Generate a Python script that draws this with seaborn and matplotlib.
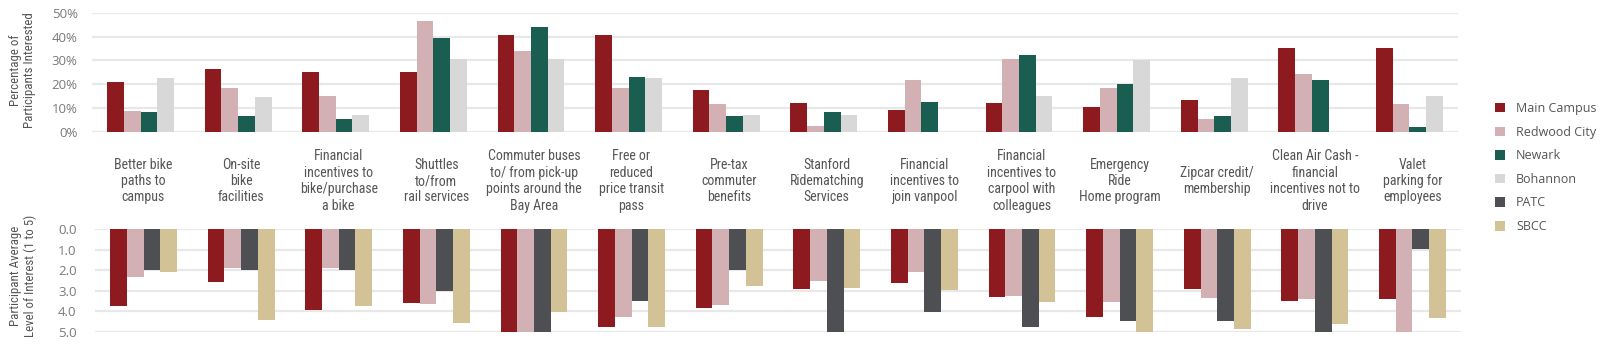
import matplotlib
matplotlib.use("Agg")
import matplotlib.pyplot as plt
from matplotlib import font_manager
from matplotlib.font_manager import FontProperties
from matplotlib.patches import Patch
from matplotlib.transforms import blended_transform_factory
import seaborn as sns
import pandas as pd

categories = [
    "Better bike\npaths to\ncampus",
    "On-site\nbike\nfacilities",
    "Financial\nincentives to\nbike/purchase\na bike",
    "Shuttles\nto/from\nrail services",
    "Commuter buses\nto/ from pick-up\npoints around the\nBay Area",
    "Free or\nreduced\nprice transit\npass",
    "Pre-tax\ncommuter\nbenefits",
    "Stanford\nRidematching\nServices",
    "Financial\nincentives to\njoin vanpool",
    "Financial\nincentives to\ncarpool with\ncolleagues",
    "Emergency\nRide\nHome program",
    "Zipcar credit/\nmembership",
    "Clean Air Cash -\nfinancial\nincentives not to\ndrive",
    "Valet\nparking for\nemployees",
]

# Percentage of participants interested (top panel)
pct_main_campus = [21, 26.5, 25, 25, 40.6, 40.6, 17.8, 12.2, 9.4, 12.2, 10.6, 13.6, 35, 35]
pct_redwood_city = [8.7, 18.3, 15.1, 46.6, 34, 18.3, 11.9, 2.4, 21.6, 30.7, 18.3, 5.6, 24.5, 11.9]
pct_newark = [8.3, 6.7, 5.3, 39.5, 43.8, 23.1, 6.7, 8.3, 12.7, 32.1, 20, 6.7, 21.6, 2.2]
pct_bohannon = [22.5, 14.8, 7, 30.4, 30.4, 22.5, 7, 7, 0, 15, 30.3, 22.5, 0, 15]

# Participant average level of interest (bottom panel)
lvl_main_campus = [3.73, 2.56, 3.94, 3.62, 5.0, 4.76, 3.86, 2.93, 2.6, 3.29, 4.3, 2.93, 3.5, 3.42]
lvl_redwood_city = [2.33, 1.89, 1.89, 3.65, 5.0, 4.27, 3.7, 2.52, 2.07, 3.24, 3.53, 3.34, 3.42, 5.0]
lvl_patc = [1.99, 1.99, 1.99, 3.0, 5.0, 3.5, 1.99, 5.0, 4.02, 4.76, 4.48, 4.48, 5.0, 0.98]
lvl_sbcc = [2.08, 4.43, 3.73, 4.56, 4.02, 4.79, 2.77, 2.85, 2.96, 3.53, 5.0, 4.87, 4.64, 4.32]

top_sites = ["Main Campus", "Redwood City", "Newark", "Bohannon"]
bottom_sites = ["Main Campus", "Redwood City", "PATC", "SBCC"]
legend_sites = ["Main Campus", "Redwood City", "Newark", "Bohannon", "PATC", "SBCC"]
colors = {
    "Main Campus": "#8C1A1F",
    "Redwood City": "#D3B0B3",
    "Newark": "#1A5E52",
    "Bohannon": "#D8D8D8",
    "PATC": "#4D4F53",
    "SBCC": "#D2C295",
}

top_vals = [pct_main_campus, pct_redwood_city, pct_newark, pct_bohannon]
bot_vals = [lvl_main_campus, lvl_redwood_city, lvl_patc, lvl_sbcc]

top_df = pd.DataFrame(
    [(c, s, v) for s, vals in zip(top_sites, top_vals) for c, v in zip(categories, vals)],
    columns=["cat", "site", "val"],
)
bot_df = pd.DataFrame(
    [(c, s, v) for s, vals in zip(bottom_sites, bot_vals) for c, v in zip(categories, vals)],
    columns=["cat", "site", "val"],
)


def pick_narrow():
    for fam in ["Liberation Sans Narrow", "Roboto Condensed", "Open Sans Condensed"]:
        try:
            font_manager.findfont(FontProperties(family=fam), fallback_to_default=False)
            return FontProperties(family=fam)
        except Exception:
            pass
    try:
        path = font_manager.findfont(FontProperties(family="DejaVu Sans", stretch="condensed"),
                                     fallback_to_default=False)
        if "Condensed" in path:
            return FontProperties(family="DejaVu Sans", stretch="condensed")
    except Exception:
        pass
    return FontProperties(family="Roboto")


sns.set_theme(style="white")
plt.rcParams["font.family"] = ["Open Sans", "DejaVu Sans"]

narrow = pick_narrow()
narrow_family = narrow.get_family()
narrow_stretch = narrow.get_stretch()

W, H = 1615, 345
fig = plt.figure(figsize=(W / 100, H / 100), dpi=100)

ax_top = fig.add_axes([91.7 / W, 1 - 132 / H, 1366.6 / W, (132 - 12.7) / H])
ax_bot = fig.add_axes([94.7 / W, 1 - 331.7 / H, 1366.6 / W, (331.7 - 229.3) / H])

sns.barplot(data=top_df, x="cat", y="val", hue="site", order=categories,
            hue_order=top_sites, palette=colors, width=0.685, ax=ax_top,
            legend=False, saturation=1, errorbar=None, linewidth=0)
sns.barplot(data=bot_df, x="cat", y="val", hue="site", order=categories,
            hue_order=bottom_sites, palette=colors, width=0.685, ax=ax_bot,
            legend=False, saturation=1, errorbar=None, linewidth=0)

tick_color = "#7A7A7A"
grid_color = "#E8E8E8"

for ax in (ax_top, ax_bot):
    ax.set_xlim(-0.5, len(categories) - 0.5)
    ax.set_xticks([])
    ax.set_xlabel("")
    ax.set_ylabel("")
    for sp in ax.spines.values():
        sp.set_visible(False)
    ax.set_axisbelow(True)
    ax.yaxis.grid(True, color=grid_color, linewidth=1.6)
    ax.tick_params(axis="y", length=0, labelsize=9.5, labelcolor=tick_color)

ax_top.set_ylim(0, 50)
ax_top.set_yticks([0, 10, 20, 30, 40, 50])
ax_top.set_yticklabels([f"{t}%" for t in [0, 10, 20, 30, 40, 50]])
ax_top.tick_params(axis="y", pad=10)

ax_bot.set_ylim(5, 0)
ax_bot.set_yticks([0, 1, 2, 3, 4, 5])
ax_bot.set_yticklabels([f"{t:.1f}" for t in [0, 1, 2, 3, 4, 5]])
ax_bot.tick_params(axis="y", pad=13)

# category labels between panels
trans = blended_transform_factory(ax_top.transData, fig.transFigure)
for i, c in enumerate(categories):
    ax_top.text(i + 0.03, 1 - 181 / H, c, transform=trans, ha="center", va="center",
                multialignment="center", fontsize=10, color="#555555",
                family=narrow_family, stretch=narrow_stretch, linespacing=1.22)

for ypix, txt in [(70, "Percentage of\nParticipants Interested"),
                  (276, "Participant Average\nLevel of Interest (1 to 5)")]:
    fig.text(23 / W, 1 - ypix / H, txt, rotation=90, ha="center", va="center",
             multialignment="center", fontsize=9.3, color="#555555", linespacing=1.1,
             family=narrow_family, stretch=narrow_stretch)

handles = [Patch(facecolor=colors[s], edgecolor="none", label=s) for s in legend_sites]
fig.legend(handles=handles, loc="upper left", bbox_to_anchor=(1490 / W, 1 - 97 / H),
           frameon=False, fontsize=9, labelcolor="#555555", handlelength=0.8,
           handleheight=0.8, handletextpad=0.9, labelspacing=0.85, borderaxespad=0)

fig.savefig("out.png", dpi=100)
